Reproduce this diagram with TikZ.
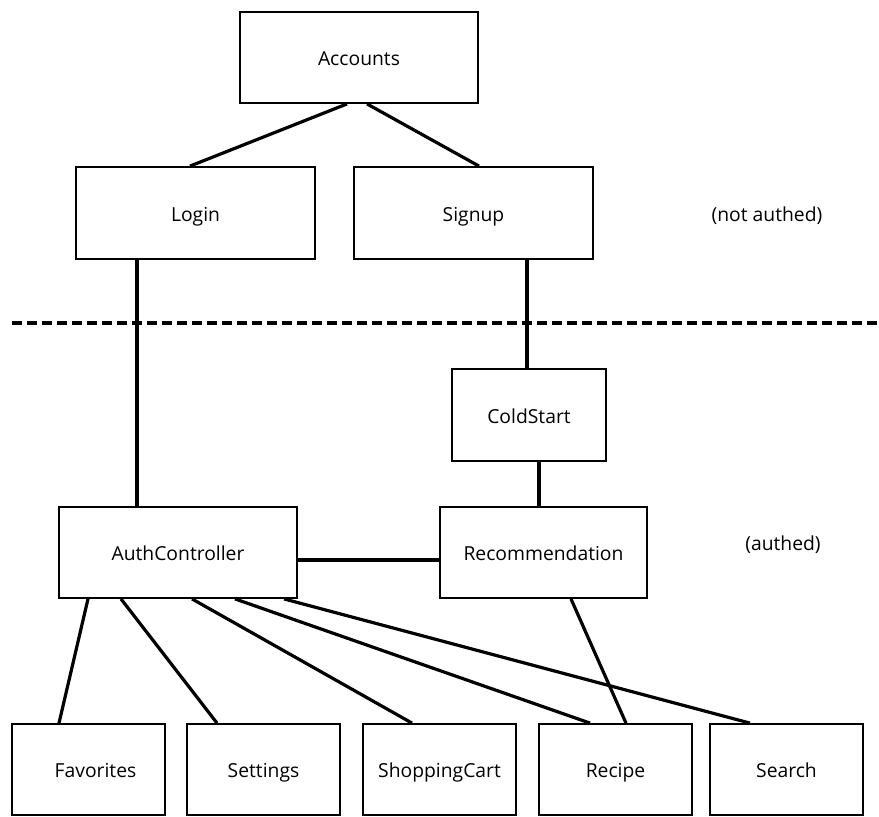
\documentclass[tikz,border=0pt]{standalone}
\usepackage{fontspec}
\setmainfont{Open Sans}
\begin{document}
\begin{tikzpicture}[x=1pt,y=-1pt,
  box/.style={draw,line width=1.8pt,inner sep=0pt,text height=16pt,text depth=0pt,font=\fontsize{19.3}{21}\selectfont},
  conn/.style={line width=3.2pt},
  lbl/.style={font=\fontsize{19.3}{21}\selectfont}]
\useasboundingbox (0,0) rectangle (879,817);
\node[box,minimum width=238pt,minimum height=91pt] (acc) at (359,57.5) {Accounts};
\node[box,minimum width=239pt,minimum height=92pt] (login) at (195.5,213) {Login};
\node[box,minimum width=239pt,minimum height=92pt] (signup) at (473.5,213) {Signup};
\node[lbl] (na) at (767,216) {(not authed)};
\coordinate (dl) at (12,323);
\coordinate (dr) at (877,323);
\draw[line width=3.2pt,dash pattern=on 10pt off 5pt] (dl) -- (dr);
\node[box,minimum width=154pt,minimum height=92pt] (cold) at (529,415) {ColdStart};
\node[box,minimum width=238pt,minimum height=91pt] (auth) at (178,552.5) {AuthController};
\node[box,minimum width=207pt,minimum height=91pt] (rec) at (543.5,552.5) {Recommendation};
\node[lbl] (au) at (783,545) {(authed)};
\node[box,minimum width=153pt,minimum height=91pt] (fav) at (88.5,769.5) {\hspace{14pt}Favorites};
\node[box,minimum width=153pt,minimum height=91pt] (set) at (263.5,769.5) {Settings\hspace{8pt}};
\node[box,minimum width=153pt,minimum height=91pt] (shop) at (439.5,769.5) {ShoppingCart};
\node[box,minimum width=153pt,minimum height=91pt] (recp) at (615.5,769.5) {Recipe};
\node[box,minimum width=153pt,minimum height=91pt] (srch) at (786.5,769.5) {Search};
\draw[conn] ([xshift=-12pt]acc.south) -- ([xshift=-5.5pt]login.north);
\draw[conn] ([xshift=8pt]acc.south) -- ([xshift=5.5pt]signup.north);
\draw[conn] ([xshift=-58.5pt]login.south) -- ([xshift=-41pt]auth.north);
\draw[conn] ([xshift=53.5pt]signup.south) -- ([xshift=-2pt]cold.north);
\draw[conn] ([xshift=10pt]cold.south) -- ([xshift=-4.5pt]rec.north);
\draw[conn] ([yshift=-7.5pt]auth.east) -- ([yshift=-7.5pt]rec.west);
\draw[conn] ([xshift=-90pt]auth.south) -- ([xshift=-29.5pt]fav.north);
\draw[conn] ([xshift=-57pt]auth.south) -- ([xshift=-46.5pt]set.north);
\draw[conn] ([xshift=14pt]auth.south) -- ([xshift=-27.5pt]shop.north);
\draw[conn] ([xshift=57pt]auth.south) -- ([xshift=-25.5pt]recp.north);
\draw[conn] ([xshift=106pt]auth.south) -- ([xshift=-36.5pt]srch.north);
\draw[conn] ([xshift=27.5pt]rec.south) -- ([xshift=10.5pt]recp.north);
\end{tikzpicture}
\end{document}
